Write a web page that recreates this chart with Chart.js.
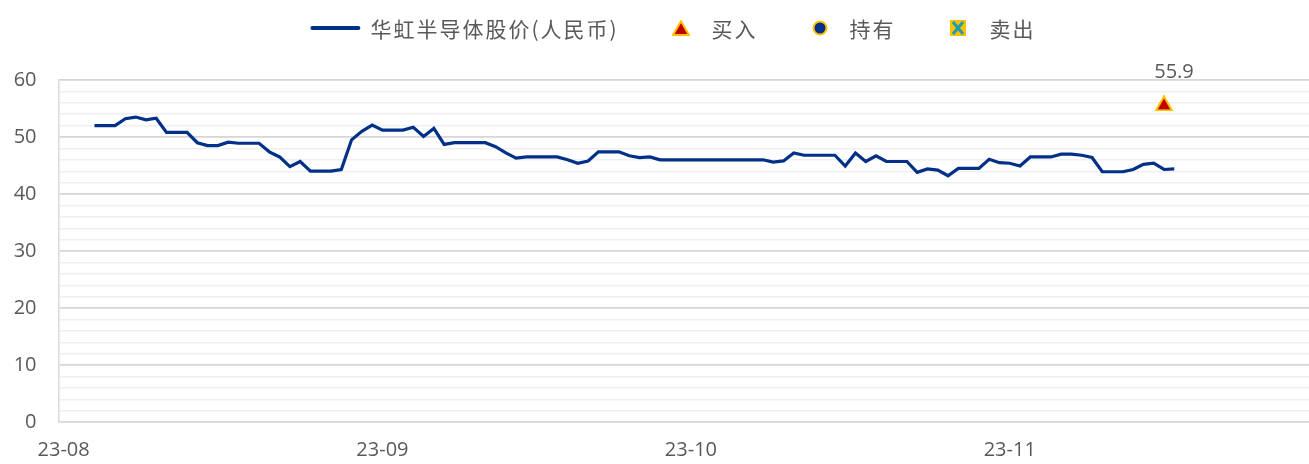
<!DOCTYPE html>
<html>
<head>
<meta charset="utf-8">
<script src="https://cdn.jsdelivr.net/npm/chart.js@4.4.1/dist/chart.umd.min.js"></script>
<style>
  html, body { margin: 0; padding: 0; background: #fff; overflow: hidden; }
  #wrap { width: 1309px; height: 464px; position: relative; }
</style>
</head>
<body>
<div id="wrap"><canvas id="priceChart"></canvas></div>
<script>
// series data (daily, weekends carry the last close)
var seriesName = '华虹半导体股价(人民币)';
var firstPriceDate = '2023-08-04';
var prices = [
  52.0, 52.0, 52.0, 53.2, 53.5, 53.0, 53.3,
  50.8, 50.8, 50.8, 49.0, 48.5, 48.5, 49.1, 48.9, 48.9, 48.9,
  47.4, 46.5, 44.8, 45.7, 44.0, 44.0, 44.0, 44.3, 49.5, 51.0, 52.1,
  51.2, 51.2, 51.2, 51.7, 50.1, 51.5, 48.7, 49.0, 49.0, 49.0,
  49.0, 48.3, 47.2, 46.3, 46.5, 46.5, 46.5, 46.5, 46.0, 45.4,
  45.8, 47.4, 47.4, 47.4, 46.7, 46.4, 46.5, 46.0, 46.0, 46.0,
  46.0, 46.0, 46.0, 46.0, 46.0, 46.0, 46.0, 46.0, 45.6, 45.8,
  47.2, 46.8, 46.8, 46.8, 46.8, 44.9, 47.2, 45.7, 46.7, 45.7,
  45.7, 45.7, 43.8, 44.4, 44.2, 43.2, 44.5, 44.5, 44.5, 46.1, 45.5,
  45.4, 44.9, 46.5, 46.5, 46.5, 47.0, 47.0, 46.8, 46.4, 43.9,
  43.9, 43.9, 44.3, 45.2, 45.4, 44.3, 44.4
];

var buyDates = ['2023-11-16'];
var buyValues = [55.9];
var holdDates = [];
var holdValues = [];
var sellDates = [];
var sellValues = [];

var axisStartDate = '2023-08-01';
var monthTickDates = ['2023-08-01', '2023-09-01', '2023-10-01', '2023-11-01'];
var monthTickLabels = ['23-08', '23-09', '23-10', '23-11'];

var yTickLabels = [0, 10, 20, 30, 40, 50, 60];

// helpers
function dayIndex(s) {
  var p = s.split('-'), a = axisStartDate.split('-');
  return (Date.UTC(+p[0], +p[1] - 1, +p[2]) - Date.UTC(+a[0], +a[1] - 1, +a[2])) / 86400000;
}

var firstIdx = dayIndex(firstPriceDate);
var priceData = prices.map(function(v, i) { return { x: firstIdx + i, y: v }; });
function pairs(dates, vals) {
  return dates.map(function(d, i) { return { x: dayIndex(d), y: vals[i] }; });
}
var monthTickValues = monthTickDates.map(dayIndex);

var NAVY = '#003087';
var GOLD = '#FFC000';
var TEXT = '#595959';
var TEAL = '#1B9DB5';

// marker images (box centred on the value, like Excel)
function makeTriangle() {
  var c = document.createElement('canvas');
  c.width = 18; c.height = 16;
  var g = c.getContext('2d');
  g.beginPath();
  g.moveTo(9, 1.2); g.lineTo(17, 15); g.lineTo(1, 15); g.closePath();
  g.fillStyle = '#C00000'; g.fill();
  g.lineWidth = 2; g.lineJoin = 'miter'; g.strokeStyle = GOLD; g.stroke();
  return c;
}
function makeCircle() {
  var c = document.createElement('canvas');
  c.width = 16; c.height = 16;
  var g = c.getContext('2d');
  g.beginPath(); g.arc(8, 8, 6.5, 0, Math.PI * 2);
  g.fillStyle = NAVY; g.fill();
  g.lineWidth = 2; g.strokeStyle = GOLD; g.stroke();
  return c;
}
function makeCross() {
  var c = document.createElement('canvas');
  c.width = 16; c.height = 16;
  var g = c.getContext('2d');
  g.fillStyle = GOLD; g.fillRect(0, 0, 16, 16);
  g.strokeStyle = TEAL; g.lineWidth = 3;
  g.beginPath();
  g.moveTo(3, 2); g.lineTo(13, 14);
  g.moveTo(13, 2); g.lineTo(3, 14);
  g.stroke();
  return c;
}
var triImg = makeTriangle();
var circImg = makeCircle();
var crossImg = makeCross();

// legend drawn at the top, like the original
var topLegend = {
  id: 'topLegend',
  afterDraw: function(chart) {
    var ctx = chart.ctx;
    var ds = chart.data.datasets;
    ctx.save();
    ctx.font = '21px "Noto Sans CJK SC"';
    ctx.letterSpacing = '2px';
    var y = 28;
    var markW = [50, 16, 16, 16];
    var gapAfterMark = [10, 23, 22, 24];
    var gapItem = 54;
    var total = 0;
    ds.forEach(function(d, i) {
      total += markW[i] + gapAfterMark[i] + ctx.measureText(d.label).width;
      if (i < ds.length - 1) total += gapItem;
    });
    var x = 673 - total / 2;
    ds.forEach(function(d, i) {
      if (i === 0) {
        ctx.strokeStyle = NAVY; ctx.lineWidth = 4; ctx.lineCap = 'round';
        ctx.beginPath(); ctx.moveTo(x + 2, y); ctx.lineTo(x + markW[i] - 2, y); ctx.stroke();
      } else {
        var img = d.pointStyle;
        ctx.drawImage(img, Math.round(x + markW[i] / 2 - img.width / 2), Math.round(y - img.height / 2));
      }
      x += markW[i] + gapAfterMark[i];
      ctx.fillStyle = TEXT;
      ctx.textAlign = 'left';
      ctx.textBaseline = 'middle';
      ctx.fillText(d.label, x, y + 1);
      x += ctx.measureText(d.label).width + gapItem;
    });
    ctx.restore();
  }
};

// value label over the buy marker
var buyLabel = {
  id: 'buyLabel',
  afterDatasetsDraw: function(chart) {
    var ctx = chart.ctx;
    var meta = chart.getDatasetMeta(1);
    ctx.save();
    ctx.font = '20px "Open Sans"';
    ctx.fillStyle = TEXT;
    ctx.textAlign = 'center';
    ctx.textBaseline = 'middle';
    meta.data.forEach(function(pt, i) {
      ctx.fillText(buyValues[i].toFixed(1), pt.x + 10, pt.y - 31);
    });
    ctx.restore();
  }
};

var ctx = document.getElementById('priceChart');

var myChart = new Chart(ctx, {
  type: 'line',
  data: {
    datasets: [
      {
        label: seriesName,
        data: priceData,
        borderColor: NAVY,
        borderWidth: 3.2,
        pointRadius: 0,
        tension: 0,
        fill: false
      },
      {
        label: '买入',
        data: pairs(buyDates, buyValues),
        showLine: false,
        pointStyle: triImg,
        pointRadius: 9
      },
      {
        label: '持有',
        data: pairs(holdDates, holdValues),
        showLine: false,
        pointStyle: circImg,
        pointRadius: 8
      },
      {
        label: '卖出',
        data: pairs(sellDates, sellValues),
        showLine: false,
        pointStyle: crossImg,
        pointRadius: 8
      }
    ]
  },
  options: {
    responsive: true,
    maintainAspectRatio: false,
    animation: false,
    devicePixelRatio: 1,
    layout: { autoPadding: false, padding: { top: 80, left: 0, right: 0, bottom: 0 } },
    plugins: {
      legend: { display: false },
      tooltip: { enabled: false }
    },
    scales: {
      x: {
        type: 'linear',
        min: -0.5,
        max: 121.1,
        afterBuildTicks: function(scale) {
          scale.ticks = monthTickValues.map(function(v) { return { value: v }; });
        },
        afterFit: function(scale) {
          scale.height = 42;
          scale.paddingLeft = 0;
          scale.paddingRight = 0;
        },
        ticks: {
          autoSkip: false,
          maxRotation: 0,
          padding: 16,
          color: TEXT,
          font: { family: 'Open Sans', size: 20 },
          callback: function(v) {
            var k = monthTickValues.indexOf(v);
            return k >= 0 ? monthTickLabels[k] : '';
          }
        },
        grid: { display: false, drawTicks: false },
        border: { display: false }
      },
      y: {
        min: 0,
        max: 60,
        afterFit: function(scale) { scale.width = 58.5; },
        ticks: {
          stepSize: 2,
          autoSkip: false,
          padding: 22,
          color: TEXT,
          font: { family: 'Open Sans', size: 20 },
          callback: function(v) { return yTickLabels.indexOf(v) >= 0 ? String(v) : ''; }
        },
        grid: {
          drawTicks: false,
          color: function(c) { return c.tick && c.tick.value % 10 === 0 ? '#d6d6d6' : '#efefef'; },
          lineWidth: function(c) { return c.tick && c.tick.value % 10 === 0 ? 1.8 : 1.4; }
        },
        border: { display: true, color: '#d9d9d9', width: 1.5 }
      }
    }
  },
  plugins: [topLegend, buyLabel]
});
</script>
</body>
</html>
